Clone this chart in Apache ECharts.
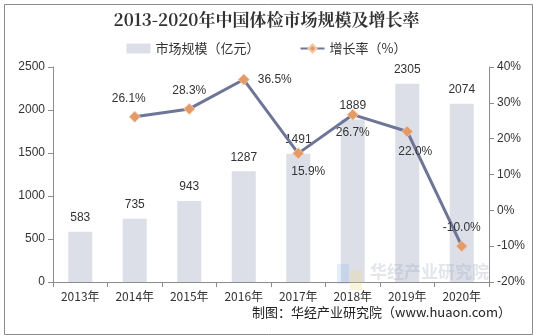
<!DOCTYPE html>
<html><head><meta charset="utf-8">
<script src="https://cdn.jsdelivr.net/npm/echarts@6/dist/echarts.min.js"></script>
<style>html,body{margin:0;padding:0;background:#fff}#c{width:533px;height:335px}</style>
</head><body><div id="c"></div>
<script>
const categories = ['2013年','2014年','2015年','2016年','2017年','2018年','2019年','2020年'];
const marketSize = [583, 735, 943, 1287, 1491, 1889, 2305, 2074];
const growthRate = [null, 26.1, 28.3, 36.5, 15.9, 26.7, 22.0, -10.0];
const leftTicks = [0, 500, 1000, 1500, 2000, 2500];
const rightTicks = [-20, -10, 0, 10, 20, 30, 40];
const labelPos = [null, 'top', 'top', 'right', 'bottom', 'bottom', 'bottom', 'top'];

const chart = echarts.init(document.getElementById('c'));
const font = '"Liberation Sans", Arial, sans-serif';
const axisColor = '#8c8c8c';
chart.setOption({
  animation: false,
  textStyle: {fontFamily: font},
  title: {
    text: '2013-2020年中国体检市场规模及增长率',
    left: 'center', top: 6,
    textStyle: {fontFamily: '"Noto Serif CJK SC","Noto Sans CJK SC",serif', fontWeight: 'bold', fontSize: 17, color: '#333'}
  },
  legend: {
    top: 37, left: 'center', itemGap: 40, itemWidth: 24, itemHeight: 10,
    textStyle: {fontFamily: '"Noto Sans CJK SC"', fontSize: 13, color: '#333'},
    data: [{name: '市场规模（亿元）', icon: 'rect'}, {name: '增长率（%）'}]
  },
  grid: {left: 53, right: 44, top: 67, bottom: 53},
  xAxis: {
    type: 'category', data: categories,
    axisLine: {lineStyle: {color: axisColor}},
    axisTick: {show: true, alignWithLabel: false, lineStyle: {color: axisColor}},
    axisLabel: {color: '#333', fontSize: 12, fontFamily: '"Noto Sans CJK SC"', margin: 8}
  },
  yAxis: [{
    type: 'value', min: leftTicks[0], max: leftTicks[leftTicks.length-1], interval: 500,
    axisLine: {show: true, lineStyle: {color: axisColor}},
    axisTick: {show: true, lineStyle: {color: axisColor}},
    splitLine: {show: false},
    axisLabel: {color: '#333', fontSize: 12, margin: 8, formatter: v => String(v)}
  }, {
    type: 'value', min: rightTicks[0], max: rightTicks[rightTicks.length-1], interval: 10,
    axisLine: {show: true, lineStyle: {color: axisColor}},
    axisTick: {show: true, lineStyle: {color: axisColor}},
    splitLine: {show: false},
    axisLabel: {color: '#333', fontSize: 12, margin: 8, formatter: v => v + '%'}
  }],
  series: [{
    name: '市场规模（亿元）', type: 'bar', data: marketSize, barWidth: 24,
    itemStyle: {color: '#dcdfe8'},
    label: {show: true, position: 'top', color: '#333', fontSize: 12, distance: 8}
  }, {
    name: '增长率（%）', type: 'line', yAxisIndex: 1,
    data: growthRate.map((v, i) => v === null ? null : {
      value: v,
      label: {position: labelPos[i], distance: labelPos[i]==='right' ? 8 : 6,
        offset: i===1 ? [-6,0] : (i===4 ? [10,0] : (i===6 ? [8,2] : [0,0]))}
    }),
    symbol: 'diamond', symbolSize: 11,
    lineStyle: {color: '#6e7597', width: 3},
    itemStyle: {color: '#e39a67', borderColor: '#f2c8a8', borderWidth: 1},
    label: {show: true, color: '#333', fontSize: 12, formatter: p => p.value.toFixed(1) + '%'}
  }],
  graphic: [
    {type: 'rect', left: 2, top: 2, shape: {width: 528, height: 330}, style: {fill: 'none', stroke: '#8a8a8a', lineWidth: 1}, z: 100},
    {type: 'text', right: 22, top: 306, style: {text: '制图：华经产业研究院（www.huaon.com）', font: '13px "Noto Sans CJK SC"', fill: '#222'}},
    {type: 'text', left: 370, top: 263, style: {text: '华经产业研究院', font: 'bold 17px "Noto Sans CJK SC"', fill: 'rgba(160,170,185,0.3)'}, z: 50},
    {type: 'rect', left: 337, top: 264, shape: {width: 12, height: 20}, style: {fill: 'rgba(120,170,230,0.2)'}, z: 50},
    {type: 'rect', left: 350, top: 270, shape: {width: 12, height: 20}, style: {fill: 'rgba(240,210,120,0.25)'}, z: 50}
  ]
});
</script></body></html>
